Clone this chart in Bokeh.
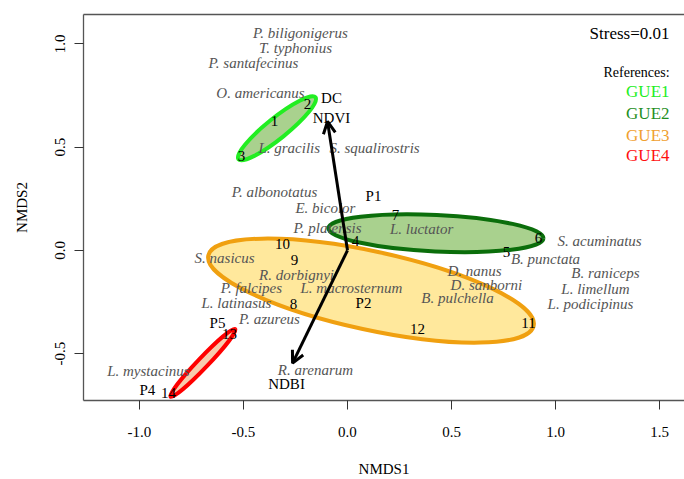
from bokeh.plotting import figure
from bokeh.models import (Range1d, FixedTicker, PrintfTickFormatter, LinearAxis,
                          Arrow, OpenHead, Label, ColumnDataSource)
from bokeh.core.properties import value
from bokeh.embed import file_html
from bokeh.resources import INLINE

# ---------------- data ----------------
site_ids = ["1", "2", "3", "4", "5", "6", "7", "8", "9", "10", "11", "12", "13", "14"]
site_x = [-0.351, -0.192, -0.510, 0.038, 0.764, 0.918, 0.231, -0.260, -0.255, -0.313, 0.870, 0.337, -0.567, -0.861]
site_y = [0.624, 0.711, 0.457, 0.045, -0.008, 0.059, 0.169, -0.262, -0.046, 0.030, -0.353, -0.382, -0.406, -0.692]

species = ["P. biligonigerus", "T. typhonius", "P. santafecinus", "O. americanus", "L. gracilis",
           "S. squalirostris", "P. albonotatus", "E. bicolor", "P. platensis", "L. luctator",
           "S. acuminatus", "B. punctata", "S. nasicus", "R. dorbignyi", "D. nanus", "B. raniceps",
           "D. sanborni", "L. limellum", "P. falcipes", "L. macrosternum", "B. pulchella",
           "L. latinasus", "L. podicipinus", "P. azureus", "L. mystacinus", "R. arenarum"]
species_x = [-0.226, -0.250, -0.452, -0.418, -0.280, 0.130, -0.351, -0.106, -0.096, 0.356,
             1.212, 0.952, -0.591, -0.245, 0.611, 1.240, 0.668, 1.192, -0.462, 0.019, 0.529,
             -0.534, 1.168, -0.375, -0.957, -0.154]
species_y = [1.051, 0.979, 0.907, 0.763, 0.495, 0.495, 0.284, 0.207, 0.107, 0.102,
             0.045, -0.042, -0.037, -0.118, -0.099, -0.109, -0.166, -0.185, -0.181, -0.181, -0.233,
             -0.257, -0.262, -0.334, -0.585, -0.578]

env_vectors = ["NDVI", "NDBI"]
env_x = [-0.096, -0.264]
env_y = [0.624, -0.546]
env_labels = ["DC", "NDVI", "NDBI"]
env_label_x = [-0.077, -0.077, -0.293]
env_label_y = [0.739, 0.643, -0.645]

plot_labels = ["P1", "P2", "P4", "P5"]
plot_label_x = [0.125, 0.077, -0.962, -0.625]
plot_label_y = [0.261, -0.253, -0.674, -0.353]

groups = ["GUE1", "GUE2", "GUE3", "GUE4"]
group_cx = [-0.339, 0.425, 0.113, -0.695]
group_cy = [0.591, 0.083, -0.195, -0.545]
group_w = [0.475, 1.035, 1.60, 0.45]
group_h = [0.10, 0.177, 0.38, 0.05]
group_angle = [38.8, -2.7, -12.2, 46.3]
group_edge = ["#22ee22", "#0b6e0b", "#f0a010", "#ff0000"]
group_fill = ["#a9d18e", "#a9d18e", "#ffe89c", "#f8cbad"]
group_text = ["#22ee22", "#1f8f1f", "#f0a030", "#ff1010"]

stress_text = "Stress=0.01"

# ---------------- figure ----------------
FONT = "Liberation Serif"
p = figure(width=684, height=479, output_backend="svg", toolbar_location=None,
           x_range=Range1d(-1.269, 1.62), y_range=Range1d(-0.727, 1.142),
           min_border_left=83, min_border_top=14, min_border_bottom=75, min_border_right=0,
           x_axis_label="NMDS1", y_axis_label="NMDS2")
p.grid.visible = False
p.outline_line_color = None
p.background_fill_color = "white"

axis_col = "#555555"
for ax in (p.xaxis[0], p.yaxis[0]):
    ax.axis_line_color = axis_col
    ax.axis_line_width = 1.3
    ax.major_tick_line_color = "#333333"
    ax.major_tick_out = 9
    ax.major_tick_in = 0
    ax.minor_tick_out = 0
    ax.minor_tick_in = 0
    ax.major_label_text_font = FONT
    ax.major_label_text_font_size = "15px"
    ax.major_label_text_color = "black"
    ax.axis_label_text_font = FONT
    ax.axis_label_text_font_size = "15px"
    ax.axis_label_text_font_style = "normal"
    ax.axis_label_text_color = "black"
    ax.formatter = PrintfTickFormatter(format="%.1f")

p.xaxis[0].ticker = FixedTicker(ticks=[-1.0, -0.5, 0.0, 0.5, 1.0, 1.5])
p.yaxis[0].ticker = FixedTicker(ticks=[-0.5, 0.0, 0.5, 1.0])
p.xaxis[0].major_label_standoff = 17
p.xaxis[0].axis_label_standoff = 21
p.yaxis[0].major_label_orientation = "vertical"
p.yaxis[0].major_label_standoff = 9
p.yaxis[0].axis_label_standoff = 23

top_axis = LinearAxis(axis_line_color=axis_col, axis_line_width=1.3,
                      major_tick_out=0, major_tick_in=0, minor_tick_out=0, minor_tick_in=0,
                      major_label_text_font_size="0px", major_label_standoff=0,
                      ticker=FixedTicker(ticks=[]))
p.add_layout(top_axis, "above")

# ellipses
gsrc = ColumnDataSource(dict(x=group_cx, y=group_cy, w=group_w, h=group_h, a=group_angle,
                             edge=group_edge, fill=group_fill))
p.ellipse(x="x", y="y", width="w", height="h", angle="a", angle_units="deg",
          fill_color="fill", line_color="edge", line_width=4, source=gsrc)

# species labels
p.text(x=species_x, y=species_y, text=species, text_font=value(FONT), text_font_style="italic",
       text_font_size="15px", text_color="#555555", text_align="center", text_baseline="middle")

# site numbers
p.text(x=site_x, y=site_y, text=site_ids, text_font=value(FONT), text_font_size="15px",
       text_color="black", text_align="center", text_baseline="middle")

# plot labels
p.text(x=plot_label_x, y=plot_label_y, text=plot_labels, text_font=value(FONT), text_font_size="15px",
       text_color="black", text_align="center", text_baseline="middle")

# environmental vectors
for ex, ey in zip(env_x, env_y):
    p.add_layout(Arrow(x_start=0, y_start=0, x_end=ex, y_end=ey, line_width=3, line_color="black",
                       end=OpenHead(size=12, line_width=3, line_color="black")))
p.text(x=env_label_x, y=env_label_y, text=env_labels, text_font=value(FONT), text_font_size="15px",
       text_color="black", text_align="center", text_baseline="middle")

# stress and references legend
p.add_layout(Label(x=1.548, y=1.051, text=stress_text, text_font=FONT, text_font_size="17px",
                   text_color="black", text_align="right", text_baseline="middle"))
p.add_layout(Label(x=1.548, y=0.859, text="References:", text_font=FONT, text_font_size="14px",
                   text_color="black", text_align="right", text_baseline="middle"))
legend_y = [0.768, 0.663, 0.557, 0.457]
for g, c, ly in zip(groups, group_text, legend_y):
    p.add_layout(Label(x=1.548, y=ly, text=g, text_font=FONT, text_font_size="17px",
                       text_color=c, text_align="right", text_baseline="middle"))

open("out.html", "w").write(file_html(p, INLINE))
